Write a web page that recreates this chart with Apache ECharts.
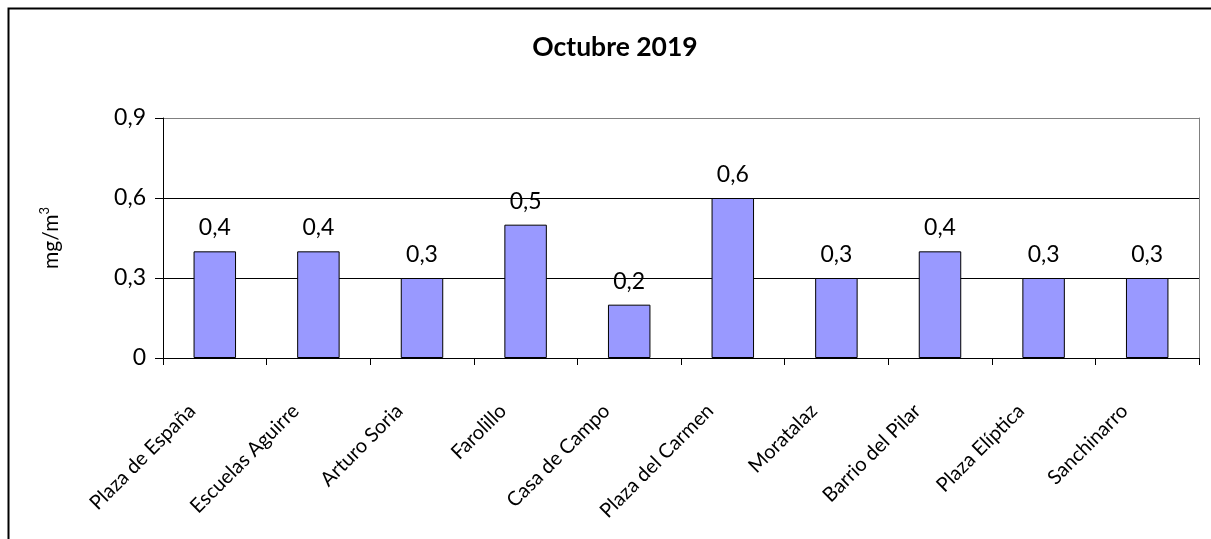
<!DOCTYPE html>
<html>
<head>
<meta charset="utf-8">
<script src="https://cdn.jsdelivr.net/npm/echarts@6/dist/echarts.min.js"></script>
<style>
  html, body { margin: 0; padding: 0; background: #fff; }
  #chart { width: 1211px; height: 539px; }
</style>
</head>
<body>
<div id="chart"></div>
<script>
// datos del gráfico
var estaciones = ['Plaza de España', 'Escuelas Aguirre', 'Arturo Soria', 'Farolillo', 'Casa de Campo',
  'Plaza del Carmen', 'Moratalaz', 'Barrio del Pilar', 'Plaza Elíptica', 'Sanchinarro'];
var valores = [0.4, 0.4, 0.3, 0.5, 0.2, 0.6, 0.3, 0.4, 0.3, 0.3];
var titulo = 'Octubre 2019';
var yMin = 0, yMax = 0.9, yPaso = 0.3;

function coma(v) {
  return String(Math.round(v * 10) / 10).replace('.', ',');
}

var myChart = echarts.init(document.getElementById('chart'));

myChart.setOption({
  animation: false,
  backgroundColor: '#fff',
  title: {
    text: titulo,
    left: 610,
    textAlign: 'center',
    top: 29,
    textStyle: { fontFamily: 'Lato', fontWeight: 'bold', fontSize: 26.5, color: '#000' }
  },
  graphic: [{
    type: 'rect',
    left: 6,
    top: 6,
    shape: { width: 1240, height: 580 },
    style: { fill: 'none', stroke: '#000', lineWidth: 2 },
    silent: true
  }, {
    type: 'text',
    left: 38,
    top: 207,
    rotation: Math.PI / 2,
    style: {
      text: '{a|mg/m}{s|3}',
      rich: {
        a: { fontFamily: 'Lato', fontSize: 21, fill: '#000' },
        s: { fontFamily: 'Lato', fontSize: 13, fill: '#000', verticalAlign: 'top', padding: [0, 0, 13, 0] }
      }
    }
  }],
  grid: { left: 163, right: 12, top: 118, bottom: 181, containLabel: false },
  xAxis: {
    type: 'category',
    data: estaciones,
    boundaryGap: true,
    axisLine: { lineStyle: { color: '#000', width: 1 } },
    axisTick: { show: true, length: 7, lineStyle: { color: '#000' } },
    axisLabel: {
      interval: 0,
      rotate: 45,
      margin: 27,
      padding: [0, 32, 0, 0],
      fontFamily: 'Lato',
      fontSize: 20,
      color: '#000'
    }
  },
  yAxis: [{
    type: 'value',
    min: yMin,
    max: yMax,
    interval: yPaso,
    axisLine: { show: true, lineStyle: { color: '#000' } },
    axisTick: { show: true, length: 8, lineStyle: { color: '#000' } },
    axisLabel: {
      margin: 17,
      fontFamily: 'Lato',
      fontSize: 23,
      color: '#000',
      formatter: function (v) { return coma(v); }
    },
    splitLine: { show: true, lineStyle: { color: ['#000', '#000', '#000', '#808080'], width: 1 } }
  }, {
    type: 'value',
    position: 'right',
    min: yMin,
    max: yMax,
    interval: yPaso,
    axisLine: { show: true, lineStyle: { color: '#808080' } },
    axisTick: { show: false },
    axisLabel: { show: false },
    splitLine: { show: false }
  }],
  series: [{
    type: 'bar',
    data: valores,
    barWidth: '41%',
    itemStyle: { color: '#9999FF', borderColor: '#000', borderWidth: 1 },
    label: {
      show: true,
      position: 'top',
      distance: 12,
      fontFamily: 'Lato',
      fontSize: 23,
      color: '#000',
      formatter: function (p) { return coma(p.value); }
    }
  }]
});
</script>
</body>
</html>
